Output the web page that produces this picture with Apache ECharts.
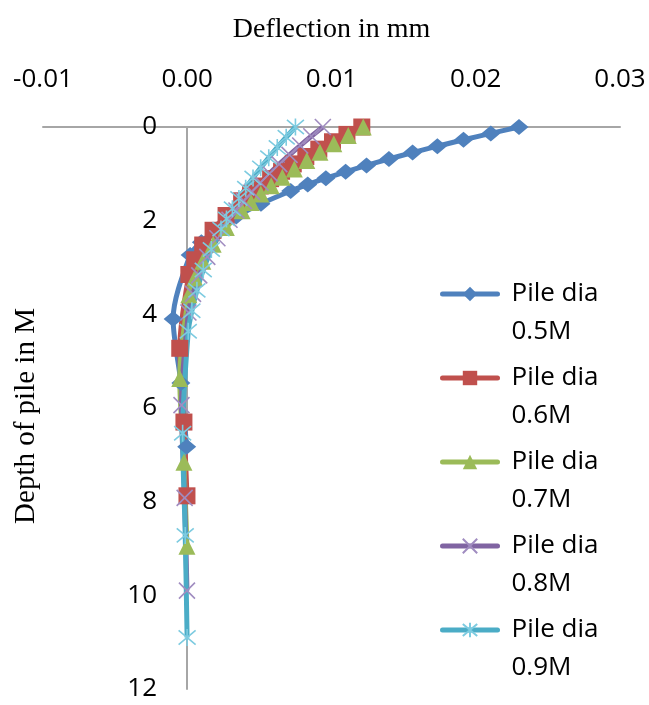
<!DOCTYPE html>
<html>
<head>
<meta charset="utf-8">
<script src="https://cdn.jsdelivr.net/npm/echarts@6/dist/echarts.min.js"></script>
<style>
html,body{margin:0;padding:0;background:#fff;}
#chart{width:649px;height:705px;}
</style>
</head>
<body>
<div id="chart"></div>
<script>
// ---- data ----
const seriesNames = ['Pile dia 0.5M', 'Pile dia 0.6M', 'Pile dia 0.7M', 'Pile dia 0.8M', 'Pile dia 0.9M'];

const depth05 = [0, 0.137, 0.273, 0.410, 0.546, 0.683, 0.820, 0.956, 1.093, 1.229, 1.366, 1.639, 1.912, 2.186, 2.459, 2.732, 4.098, 5.464, 6.830];
const defl05  = [0.0230, 0.02104, 0.01915, 0.01734, 0.01562, 0.01398, 0.01243, 0.01098, 0.00961, 0.00835, 0.00717, 0.00511, 0.00340, 0.00204, 0.00098, 0.00020, -0.00098, -0.00044, -0.00004];

const depth06 = [0, 0.158, 0.315, 0.473, 0.630, 0.788, 0.945, 1.103, 1.260, 1.418, 1.575, 1.890, 2.205, 2.520, 2.835, 3.150, 4.725, 6.300, 7.875];
const defl06  = [0.0121, 0.01107, 0.01007, 0.00912, 0.00822, 0.00735, 0.00654, 0.00578, 0.00506, 0.00439, 0.00377, 0.00269, 0.00179, 0.00107, 0.00052, 0.00011, -0.00052, -0.00023, -0.00002];

const depth07 = [0, 0.179, 0.358, 0.537, 0.716, 0.895, 1.074, 1.253, 1.432, 1.611, 1.790, 2.148, 2.506, 2.864, 3.222, 3.580, 5.370, 7.160, 8.950];
const defl07  = [0.0122, 0.01116, 0.01016, 0.00920, 0.00829, 0.00742, 0.00659, 0.00582, 0.00510, 0.00443, 0.00380, 0.00271, 0.00180, 0.00108, 0.00052, 0.00011, -0.00052, -0.00023, -0.00002];

const depth08 = [0, 0.198, 0.396, 0.594, 0.792, 0.990, 1.188, 1.386, 1.584, 1.782, 1.980, 2.376, 2.772, 3.168, 3.564, 3.960, 5.940, 7.920, 9.900];
const defl08  = [0.0094, 0.00860, 0.00783, 0.00709, 0.00638, 0.00571, 0.00508, 0.00449, 0.00393, 0.00341, 0.00293, 0.00209, 0.00139, 0.00083, 0.00040, 0.00008, -0.00040, -0.00018, -0.00002];

const depth09 = [0, 0.218, 0.436, 0.654, 0.872, 1.090, 1.308, 1.526, 1.744, 1.962, 2.180, 2.616, 3.052, 3.488, 3.924, 4.360, 6.540, 8.720, 10.900];
const defl09  = [0.0075, 0.00686, 0.00624, 0.00565, 0.00509, 0.00456, 0.00405, 0.00358, 0.00313, 0.00272, 0.00234, 0.00167, 0.00111, 0.00067, 0.00032, 0.00007, -0.00032, -0.00014, -0.00001];

const xTickLabels = ['-0.01', '0.00', '0.01', '0.02', '0.03'];
const yTickLabels = ['0', '2', '4', '6', '8', '10', '12'];

// ---- presentation ----
const colors = ['#4F81BD', '#C0504D', '#9BBB59', '#8064A2', '#4BACC6'];
const markerColors = ['#4F81BD', '#C0504D', '#9BBB59', '#A08CC0', '#7DCBE0'];
const symbols = ['diamond', 'rect', 'triangle',
  'path://M0,0L10,10M10,0L0,10',
  'path://M0,1L10,11M10,1L0,11M5,0L5,12'];
const symbolSizes = [[19, 16], 17, 17, 16, 17];

const depths = [depth05, depth06, depth07, depth08, depth09];
const defls = [defl05, defl06, defl07, defl08, defl09];

const xMin = -0.01, xMax = 0.03, xStep = 0.01, yMin = 0, yStep = 2;

// grid geometry
const gridLeft = 43, gridRight = 29;
const plotWidth = 649 - gridLeft - gridRight;
// y axis drawn where deflection = 0
const yAxisOffset = -Math.round((0 - xMin) / (xMax - xMin) * plotWidth);

const series = seriesNames.map((name, i) => {
  const isPath = i >= 3;
  return {
    type: 'line',
    name: name,
    data: defls[i].map((v, k) => [v, depths[i][k]]),
    symbol: symbols[i],
    symbolSize: symbolSizes[i],
    smooth: 0.3,
    showAllSymbol: true,
    lineStyle: { color: colors[i], width: 5 },
    itemStyle: isPath
      ? { color: markerColors[i], borderColor: markerColors[i], borderWidth: 1.6 }
      : { color: markerColors[i] },
    emphasis: { disabled: true }
  };
});

const chart = echarts.init(document.getElementById('chart'), null, { renderer: 'canvas' });
chart.setOption({
  animation: false,
  backgroundColor: '#fff',
  grid: { left: gridLeft, right: gridRight, top: 127, bottom: 16, containLabel: false, outerBoundsMode: 'none' },
  legend: {
    orient: 'vertical',
    left: 440,
    top: 275,
    padding: 0,
    itemGap: 14,
    itemWidth: 55,
    itemHeight: 18,
    data: seriesNames,
    lineStyle: { width: 5, cap: 'round' },
    formatter: n => {
      const k = n.lastIndexOf(' ');
      return '{a|' + n.slice(0, k) + '}\n{b|' + n.slice(k + 1) + '}';
    },
    textStyle: {
      fontFamily: 'Open Sans', fontSize: 26, color: '#000',
      padding: [0, 0, 0, 9],
      rich: {
        a: { fontFamily: 'Open Sans', fontSize: 26, color: '#000', lineHeight: 76, height: 38, verticalAlign: 'bottom' },
        b: { fontFamily: 'Open Sans', fontSize: 26, color: '#000', lineHeight: 38 }
      }
    }
  },
  xAxis: {
    type: 'value', position: 'top',
    min: xMin, max: xMax, interval: xStep,
    name: 'Deflection in mm', nameLocation: 'middle', nameGap: 83,
    nameMoveOverlap: false,
    nameTextStyle: { fontFamily: 'Liberation Serif', fontSize: 28, color: '#000' },
    axisLine: { onZero: false, lineStyle: { color: '#a6a6a6', width: 2 } },
    axisTick: { show: false },
    splitLine: { show: false },
    axisLabel: {
      fontFamily: 'Open Sans', fontSize: 26, color: '#000', margin: 34,
      formatter: v => xTickLabels[Math.round((v - xMin) / xStep)] || ''
    }
  },
  yAxis: {
    type: 'value', inverse: true, position: 'left',
    offset: yAxisOffset,
    min: 0, max: 12, interval: yStep,
    name: 'Depth of pile in M', nameLocation: 'middle', nameGap: 146, nameRotate: 90,
    nameMoveOverlap: false,
    nameTextStyle: { fontFamily: 'Liberation Serif', fontSize: 29, color: '#000', padding: [0, 16, 0, 0] },
    axisLine: { onZero: false, lineStyle: { color: '#a6a6a6', width: 2 } },
    axisTick: { show: false },
    splitLine: { show: false },
    axisLabel: {
      fontFamily: 'Open Sans', fontSize: 26, color: '#000', margin: 30,
      formatter: v => yTickLabels[Math.round((v - yMin) / yStep)] || ''
    }
  },
  series: series
});
</script>
</body>
</html>
